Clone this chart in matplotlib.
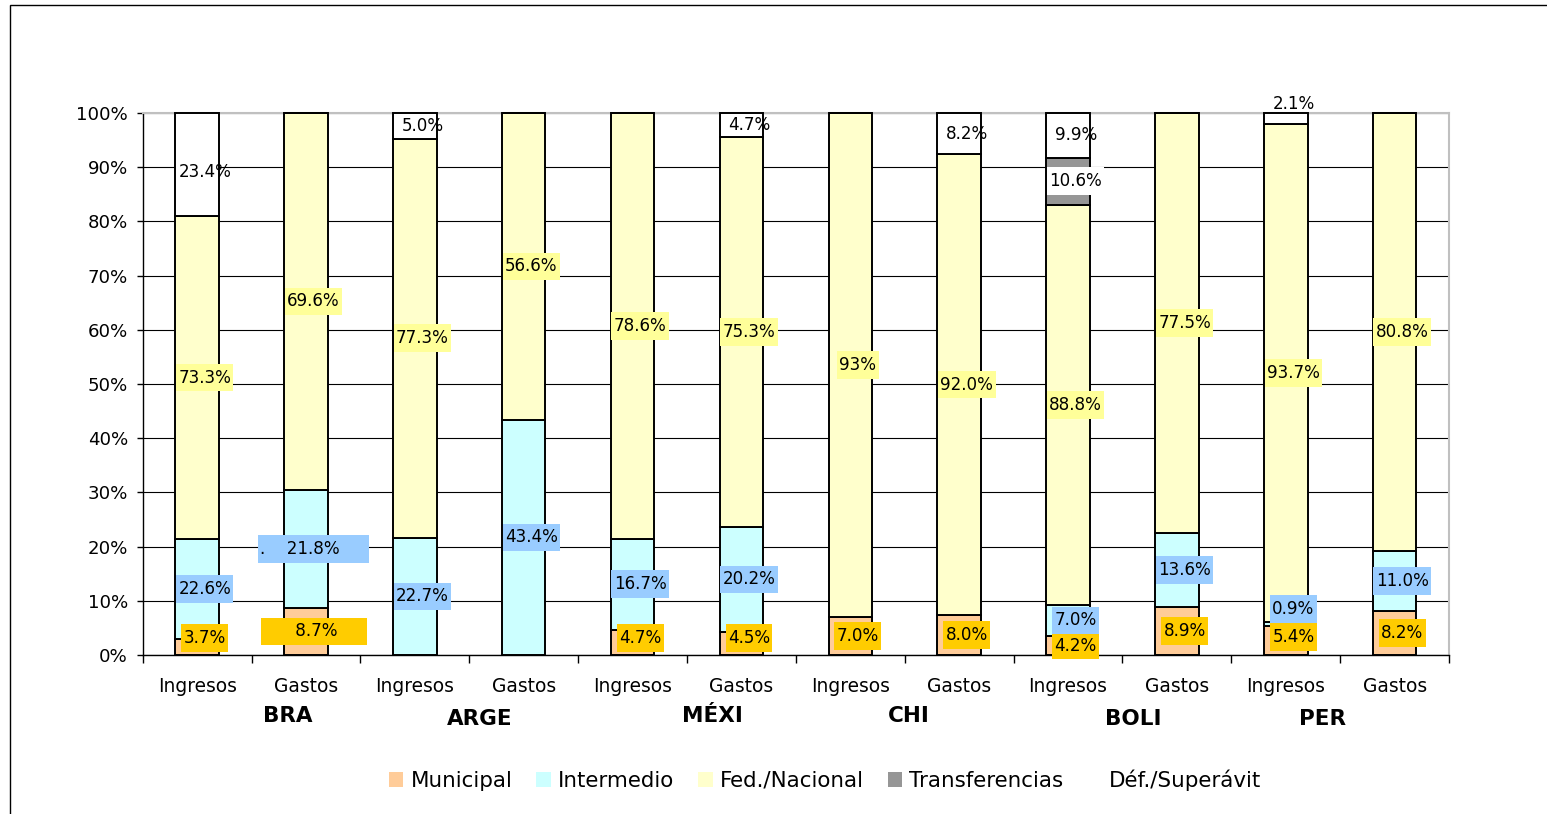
import numpy as np
import matplotlib
matplotlib.use("Agg")
import matplotlib.pyplot as plt
from matplotlib.patches import Patch, Rectangle
from matplotlib.path import Path
from matplotlib.ticker import FuncFormatter, MultipleLocator

plt.rcParams["font.family"] = ["DejaVu Sans"]

# one Ingresos / Gastos pair per country
bar_labels = ["Ingresos", "Gastos"] * 6
countries = ["BRA", "ARGE", "MÉXI", "CHI", "BOLI", "PER"]

series_names = ["Municipal", "Intermedio", "Fed./Nacional", "Transferencias", "Déf./Superávit"]
municipal = [3.7, 8.7, 0, 0, 4.7, 4.5, 7.0, 8.0, 4.2, 8.9, 5.4, 8.2]
intermedio = [22.6, 21.8, 22.7, 43.4, 16.7, 20.2, 0, 0, 7.0, 13.6, 0.9, 11.0]
nacional = [73.3, 69.6, 77.3, 56.6, 78.6, 75.3, 93, 92.0, 88.8, 77.5, 93.7, 80.8]
transferencias = [0, 0, 0, 0, 0, 0, 0, 0, 10.6, 0, 0, 0]
deficit = [23.4, 0, 5.0, 0, 0, 4.7, 0, 8.2, 9.9, 0, 2.1, 0]

fill_colors = ["#FFCC99", "#CCFFFF", "#FFFFCC", "#969696", "#FFFFFF"]
box_colors = ["#FFCC00", "#99CCFF", "#FFFF99", "#FFFFFF", None]

# labels that were dragged away from the segment centre (bar, series) -> y in %
label_y = {(0, 0): 3.1, (4, 0): 3.1, (5, 0): 3.1, (10, 0): 3.3,
           (10, 1): 8.5, (10, 4): 101.7, (0, 4): 89.1}
label_text = {(1, 0): "      8.7%     ", (1, 1): ".    21.8%     "}

# country captions under each pair (x in bar units, y in axes fraction)
country_x = [0.83, 2.60, 4.73, 6.54, 8.60, 10.34]
country_y = [-0.113, -0.118, -0.113, -0.113, -0.118, -0.118]


def fmt(v):
    return f"{v}%" if isinstance(v, int) else f"{v:.1f}%"


def label_box(x0, y0, width, height, mutation_size):
    # flat label background, taller than it is padded sideways
    px, py = 0.14 * mutation_size, 0.29 * mutation_size
    x1, y1 = x0 + width + px, y0 + height + py
    x0, y0 = x0 - px, y0 - py
    return Path([(x0, y0), (x1, y0), (x1, y1), (x0, y1), (x0, y0)], closed=True)


fig = plt.figure(figsize=(15.47, 8.14), dpi=100)
ax = fig.add_axes([0.0922, 0.1953, 0.8445, 0.6659])

data = [municipal, intermedio, nacional, transferencias, deficit]
totals = np.array(data, dtype=float).sum(axis=0)
x = np.arange(len(bar_labels))
bottoms = np.zeros(len(x))

for k, values in enumerate(data):
    shares = np.array(values, dtype=float) / totals * 100
    bars = ax.bar(x, shares, 0.4, bottom=bottoms, color=fill_colors[k],
                  edgecolor="black", linewidth=1.4, zorder=3)
    for p in bars:
        p.set_clip_on(False)
    for i, v in enumerate(values):
        if v == 0:
            continue
        y = label_y.get((i, k), bottoms[i] + shares[i] / 2)
        text = label_text.get((i, k), fmt(v))
        bbox = None
        if box_colors[k]:
            bbox = dict(boxstyle=label_box, fc=box_colors[k], ec="none")
        ax.text(i + 0.07, y, text, ha="center", va="center", fontsize=12.1,
                bbox=bbox, zorder=4)
    bottoms += shares

ax.set_xlim(-0.5, 11.5)
ax.set_ylim(0, 100)
ax.yaxis.set_major_locator(MultipleLocator(10))
ax.yaxis.set_major_formatter(FuncFormatter(lambda v, p: f"{v:.0f}%"))
ax.yaxis.grid(True, color="black", linewidth=0.8)
ax.set_axisbelow(True)

ax.set_xticks(x)
ax.set_xticklabels(bar_labels)
ax.set_xticks(np.arange(-0.5, 12, 1), minor=True)
ax.tick_params(axis="x", which="major", length=0, pad=15.5, labelsize=13.4)
ax.tick_params(axis="x", which="minor", length=6, width=1, direction="out")
ax.tick_params(axis="y", length=4, width=1, pad=6.6, labelsize=13.1)

for side in ("top", "right"):
    ax.spines[side].set_color("#C0C0C0")
    ax.spines[side].set_linewidth(1.5)
for side in ("left", "bottom"):
    ax.spines[side].set_color("black")
    ax.spines[side].set_linewidth(1.0)

for name, cx, cy in zip(countries, country_x, country_y):
    ax.text(cx, cy, name, transform=ax.get_xaxis_transform(), ha="center",
            va="center", fontsize=15.5, fontweight="bold")

handles = [Patch(facecolor=c, edgecolor="none") for c in fill_colors]
fig.legend(handles, series_names, loc="center",
           bbox_to_anchor=(825 / 1547, 1 - 780 / 814), ncol=5, frameon=False,
           fontsize=15.4, handlelength=0.68, handleheight=0.68,
           handletextpad=0.33, columnspacing=1.12)

# chart frame, open at the right and bottom edges
fig.add_artist(Rectangle((10 / 1547, -0.1), 1.0, 1.1 - 5 / 814,
                         transform=fig.transFigure, fill=False,
                         edgecolor="black", linewidth=1.0))

fig.savefig("out.png", dpi=100)
